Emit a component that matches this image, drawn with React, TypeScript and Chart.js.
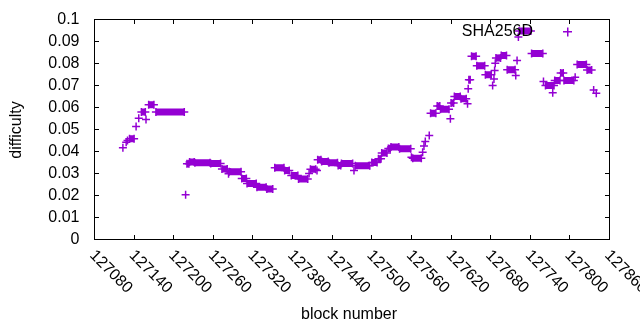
import React, { useEffect, useRef } from 'react';
import { Chart, registerables } from 'chart.js';

Chart.register(...registerables);

// Runs of consecutive blocks sharing the same difficulty (start block, end block, value)
const runStart = [
  127123, 127128, 127130, 127133, 127143, 127147, 127151, 127158, 127162, 127173,
  127218, 127220, 127224, 127232, 127256, 127273, 127283, 127284, 127303, 127311,
  127326, 127341, 127353, 127368, 127378, 127389, 127405, 127407, 127417, 127418,
  127424, 127435, 127449, 127454, 127473, 127475, 127500, 127510, 127515, 127525,
  127529, 127542, 127560, 127562, 127577, 127579, 127581, 127587, 127589, 127599,
  127604, 127619, 127620, 127625, 127635, 127645, 127646, 127647, 127651, 127659,
  127672, 127683, 127685, 127686, 127687, 127688, 127696, 127705, 127718, 127720,
  127722, 127723, 127742, 127760, 127763, 127774, 127777, 127786, 127791, 127808,
  127811, 127826, 127836, 127840,
];
const runEnd = [
  127123, 127128, 127130, 127140, 127143, 127147, 127157, 127158, 127170, 127216,
  127218, 127223, 127231, 127255, 127271, 127281, 127283, 127302, 127310, 127325,
  127340, 127350, 127367, 127375, 127388, 127403, 127405, 127415, 127417, 127423,
  127434, 127448, 127453, 127471, 127473, 127497, 127508, 127514, 127523, 127528,
  127541, 127559, 127560, 127575, 127577, 127579, 127581, 127587, 127597, 127603,
  127617, 127619, 127624, 127634, 127643, 127645, 127646, 127649, 127658, 127671,
  127681, 127683, 127685, 127686, 127687, 127695, 127704, 127717, 127718, 127720,
  127722, 127741, 127759, 127760, 127776, 127774, 127785, 127790, 127806, 127808,
  127825, 127833, 127836, 127840,
];
const runValue = [
  0.0417, 0.0442, 0.0450, 0.0458, 0.0514, 0.0551, 0.0579, 0.0546, 0.0612, 0.0580,
  0.0203, 0.0344, 0.0352, 0.0349, 0.0345, 0.0321, 0.0299, 0.0308, 0.0277, 0.0255,
  0.0238, 0.0229, 0.0326, 0.0314, 0.0291, 0.0275, 0.0300, 0.0319, 0.0314, 0.0362,
  0.0354, 0.0349, 0.0336, 0.0345, 0.0314, 0.0335, 0.0350, 0.0367, 0.0393, 0.0414,
  0.0420, 0.0412, 0.0374, 0.0369, 0.0397, 0.0425, 0.0445, 0.0473, 0.0574, 0.0607,
  0.0592, 0.0549, 0.0620, 0.0650, 0.0640, 0.0617, 0.0685, 0.0726, 0.0833, 0.0790,
  0.0749, 0.0700, 0.0730, 0.0768, 0.0801, 0.0825, 0.0836, 0.0772, 0.0745, 0.0814,
  0.0920, 0.0948, 0.0845, 0.0718, 0.0700, 0.0667, 0.0723, 0.0757, 0.0723, 0.0738,
  0.0795, 0.0770, 0.0680, 0.0665,
];

const xTickValues = [
  127080, 127140, 127200, 127260, 127320, 127380, 127440,
  127500, 127560, 127620, 127680, 127740, 127800, 127860,
];
const xTickLabels = xTickValues.map((v) => String(v));
const yTickValues = [0, 0.01, 0.02, 0.03, 0.04, 0.05, 0.06, 0.07, 0.08, 0.09, 0.1];
const yTickLabels = ['0', '0.01', '0.02', '0.03', '0.04', '0.05', '0.06', '0.07', '0.08', '0.09', '0.1'];

const seriesLabel = 'SHA256D';
const xTitle = 'block number';
const yTitle = 'difficulty';

const COLOR = '#9400d3';
const FONT = '"Liberation Sans", Arial, sans-serif';
const FONT_SIZE = 16;

const zeroPad = (s: any) => {
  s.paddingTop = 0;
  s.paddingBottom = 0;
  s.paddingLeft = 0;
  s.paddingRight = 0;
};

const gnuplotFrame = {
  id: 'gnuplotFrame',
  afterDraw(chart: any) {
    const { ctx, chartArea: a, scales } = chart;
    const xs = scales.x;
    const ys = scales.y;
    const tl = 4;
    const L = Math.floor(a.left);
    const R = Math.floor(a.right);
    const T = Math.floor(a.top);
    const B = Math.floor(a.bottom);
    ctx.save();
    ctx.fillStyle = '#000';
    // frame
    ctx.fillRect(L, T, R - L + 1, 1);
    ctx.fillRect(L, B, R - L + 1, 1);
    ctx.fillRect(L, T, 1, B - T + 1);
    ctx.fillRect(R, T, 1, B - T + 1);
    // inward ticks on all four sides
    yTickValues.forEach((v) => {
      const py = Math.floor(ys.getPixelForValue(v));
      ctx.fillRect(L + 1, py, tl, 1);
      ctx.fillRect(R - tl, py, tl, 1);
    });
    xTickValues.forEach((v) => {
      const px = Math.floor(xs.getPixelForValue(v));
      ctx.fillRect(px, B - tl, 1, tl);
      ctx.fillRect(px, T + 1, 1, tl);
    });

    ctx.font = `${FONT_SIZE}px ${FONT}`;
    // x tick labels, rotated downward to the right
    xTickValues.forEach((v, i) => {
      const px = xs.getPixelForValue(v);
      ctx.save();
      ctx.translate(px - 2.5, a.bottom + 13.5);
      ctx.rotate(Math.PI / 4);
      ctx.textAlign = 'left';
      ctx.textBaseline = 'middle';
      ctx.fillText(xTickLabels[i], 0, 0);
      ctx.restore();
    });
    // axis titles
    ctx.textAlign = 'center';
    ctx.textBaseline = 'middle';
    ctx.fillText(xTitle, 349, 315);
    ctx.save();
    ctx.translate(17, 130);
    ctx.rotate(-Math.PI / 2);
    ctx.fillText(yTitle, 0, 0);
    ctx.restore();
    // legend
    ctx.textAlign = 'right';
    ctx.fillText(seriesLabel, 533, 32);
    ctx.fillStyle = COLOR;
    ctx.fillRect(563, 31, 9, 1.5);
    ctx.fillRect(567, 27.5, 1.5, 9);
    ctx.restore();
  },
};

export default function App() {
  const ref = useRef<HTMLCanvasElement | null>(null);

  useEffect(() => {
    if (!ref.current) return;
    const pts: { x: number; y: number | null }[] = [];
    runStart.forEach((s, i) => {
      pts.push({ x: s, y: runValue[i] });
      if (runEnd[i] !== s) pts.push({ x: runEnd[i], y: runValue[i] });
      pts.push({ x: runEnd[i], y: null });
    });

    const chart = new Chart(ref.current, {
      type: 'line',
      data: {
        datasets: [
          {
            label: seriesLabel,
            data: pts as any,
            borderColor: COLOR,
            backgroundColor: COLOR,
            borderWidth: 7,
            borderCapStyle: 'butt',
            pointStyle: 'cross',
            pointRadius: 4,
            pointBorderWidth: 1.5,
            pointBorderColor: COLOR,
            pointHoverRadius: 4,
            spanGaps: false,
            tension: 0,
            clip: 6,
          } as any,
        ],
      },
      options: {
        responsive: false,
        animation: false,
        events: [],
        layout: { autoPadding: false, padding: { left: 0, right: 30.5, top: 19.5, bottom: 0 } },
        plugins: { legend: { display: false }, tooltip: { enabled: false } },
        scales: {
          x: {
            type: 'linear',
            min: 127080,
            max: 127860,
            grid: { display: false, drawTicks: false },
            border: { display: false },
            ticks: { display: false },
            afterBuildTicks: (s: any) => {
              s.ticks = xTickValues.map((v) => ({ value: v }));
            },
            afterFit: (s: any) => {
              s.height = 90.5;
              zeroPad(s);
            },
          },
          y: {
            type: 'linear',
            min: 0,
            max: 0.1,
            grid: { display: false, drawTicks: false },
            border: { display: false },
            afterBuildTicks: (s: any) => {
              s.ticks = yTickValues.map((v) => ({ value: v }));
            },
            ticks: {
              padding: 15,
              autoSkip: false,
              color: '#000',
              font: { family: FONT, size: FONT_SIZE },
              callback: (_v: any, i: number) => yTickLabels[i],
            },
            afterFit: (s: any) => {
              s.width = 94.5;
              zeroPad(s);
            },
          },
        },
      },
      plugins: [gnuplotFrame],
    });
    return () => chart.destroy();
  }, []);

  return (
    <div style={{ position: 'absolute', left: 0, top: 0, width: 640, height: 330, background: '#fff' }}>
      <canvas ref={ref} width={640} height={330} style={{ display: 'block' }} />
    </div>
  );
}
